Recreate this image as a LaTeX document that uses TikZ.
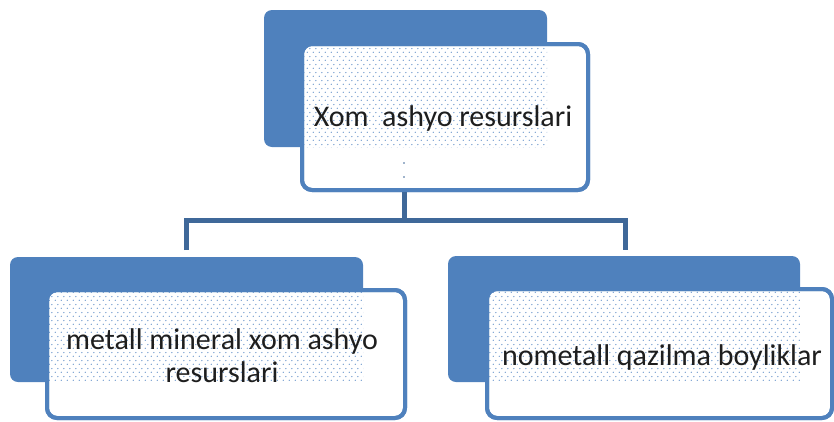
\documentclass[tikz,border=0pt]{standalone}
\usepackage{fontspec}
\setmainfont{Carlito}
\usetikzlibrary{patterns.meta}
\definecolor{obl}{HTML}{4F81BD}
\definecolor{odk}{HTML}{3F6899}
\definecolor{otx}{HTML}{1E1E1E}
\definecolor{odot}{HTML}{5A8AC6}
\tikzdeclarepattern{
  name=sdots,
  type=uncolored,
  bounding box={(0pt,0pt) and (6pt,8pt)},
  tile size={(6pt,8pt)},
  code={
    \fill (1.5pt,2pt) circle (0.75pt);
    \fill (4.5pt,6pt) circle (0.75pt);
  }
}
\tikzset{
  backbox/.style={fill=obl, draw=none, rounded corners=8pt, inner sep=0pt},
  frontbox/.style={fill=white, draw=obl, line width=4pt, rounded corners=10pt, inner sep=0pt},
  dotfill/.style={pattern={sdots}, pattern color=odot},
  conn/.style={draw=odk, line width=5pt},
  lbl/.style={text=otx, font=\fontsize{30}{33}\selectfont, align=center, inner sep=0pt}
}
\begin{document}
\begin{tikzpicture}[x=1pt,y=-1pt]
\useasboundingbox (0,0) rectangle (834,421);
% back boxes
\node[backbox, minimum width=283pt, minimum height=137pt] (tb) at (405.5,78.5) {};
\node[backbox, minimum width=353pt, minimum height=125pt] (lb) at (186.5,319.5) {};
\node[backbox, minimum width=352pt, minimum height=126pt] (rb) at (624,319) {};
% front boxes
\node[frontbox, minimum width=286pt, minimum height=146pt] (tf) at (445,117) {};
\node[frontbox, minimum width=358pt, minimum height=128pt] (lf) at (226,354) {};
\node[frontbox, minimum width=345pt, minimum height=129pt] (rf) at (659.5,353.5) {};
% dotted overlap regions
\fill[dotfill] (304,46) rectangle (tb.south east);
\fill[dotfill] (49,292) rectangle (lb.south east);
\fill[dotfill] (489,291) rectangle (rb.south east);
% redraw borders on top
\node[frontbox, fill=none, minimum width=286pt, minimum height=146pt] (tfb) at (tf) {};
\node[frontbox, fill=none, minimum width=358pt, minimum height=128pt] (lfb) at (lf) {};
\node[frontbox, fill=none, minimum width=345pt, minimum height=129pt] (rfb) at (rf) {};
% texts
\node[lbl] (tt) at (443,118) {Xom\ \ ashyo resurslari};
\node[lbl] (lt) at (222,356) {metall mineral xom ashyo\\resurslari};
\node[lbl] (rt) at (662,357) {nometall qazilma boyliklar};
\fill[odk] (404,163) circle (0.9pt);
\fill[odk] (404,177) circle (0.9pt);
% connectors
\coordinate (bus) at (404,220);
\coordinate (lend) at (186,250);
\coordinate (rend) at (625,250);
\draw[conn] (bus |- tf.south) -- (bus);
\draw[conn] (lend) |- (bus) -| (rend);
\end{tikzpicture}
\end{document}
